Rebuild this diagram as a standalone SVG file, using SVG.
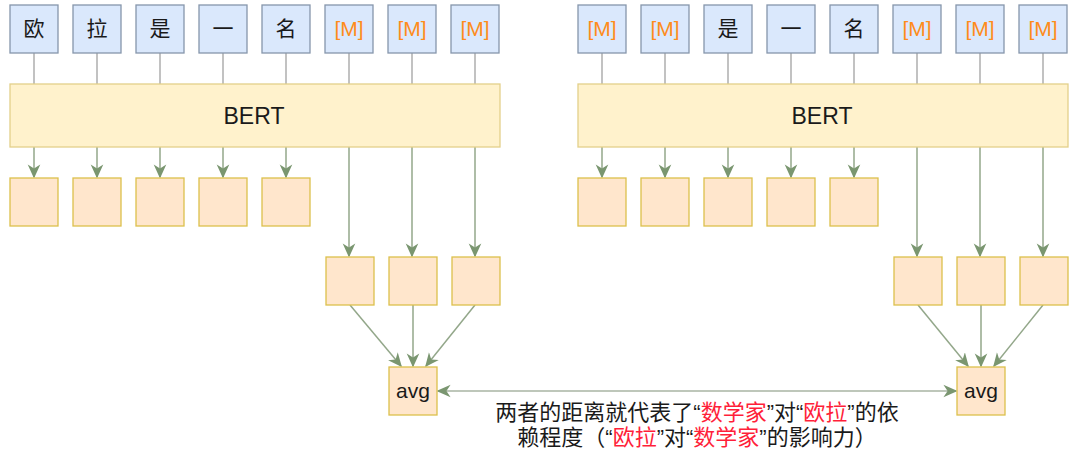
<svg xmlns="http://www.w3.org/2000/svg" width="1080" height="451" viewBox="0 0 1080 451">
<defs>
<style>
.tok{fill:#dae8fc;stroke:#8696ab;stroke-width:1.3}
.bert{fill:#fff2cc;stroke:#e3d08a;stroke-width:1.3}
.out{fill:#ffe6cc;stroke:#dcc04c;stroke-width:1.3}
.t{font-family:"Liberation Sans","Noto Sans CJK SC",sans-serif;font-size:21px;fill:#1a1a1a;text-anchor:middle}
.m{fill:#ff8c1a}
.big{font-size:23px}
.avg{font-size:21px}
.in{stroke:#9a9a9a;stroke-width:1.2;fill:none}
.ar{stroke:#93a78a;stroke-width:1.5;fill:none}
.cap{font-family:"Liberation Sans","Noto Sans CJK SC",sans-serif;font-size:22px;fill:#1a1a1a;text-anchor:middle}
.r{fill:#ff1f3a}
</style>
<marker id="ah" viewBox="0 0 10 10" refX="9" refY="5" markerWidth="14" markerHeight="14" markerUnits="userSpaceOnUse" orient="auto-start-reverse">
<path d="M0,0.5 L10,5 L0,9.5 L3,5 Z" fill="#7a9670"/>
</marker>
</defs>
<rect width="1080" height="451" fill="#ffffff"/>

<g id="connectors">
<path class="in" d="M34,53V84M97,53V84M160,53V84M223,53V84M286,53V84M349,53V84M412,53V84M475,53V84"/>
<path class="in" d="M602,53V84M665,53V84M728,53V84M791,53V84M854,53V84M917,53V84M980,53V84M1043,53V84"/>
<g class="ar" marker-end="url(#ah)">
<line x1="34" y1="147" x2="34" y2="177"/>
<line x1="97" y1="147" x2="97" y2="177"/>
<line x1="160" y1="147" x2="160" y2="177"/>
<line x1="223" y1="147" x2="223" y2="177"/>
<line x1="286" y1="147" x2="286" y2="177"/>
<line x1="349" y1="147" x2="349" y2="256"/>
<line x1="412" y1="147" x2="412" y2="256"/>
<line x1="475" y1="147" x2="475" y2="256"/>
<line x1="602" y1="147" x2="602" y2="177"/>
<line x1="665" y1="147" x2="665" y2="177"/>
<line x1="728" y1="147" x2="728" y2="177"/>
<line x1="791" y1="147" x2="791" y2="177"/>
<line x1="854" y1="147" x2="854" y2="177"/>
<line x1="917" y1="147" x2="917" y2="256"/>
<line x1="980" y1="147" x2="980" y2="256"/>
<line x1="1043" y1="147" x2="1043" y2="256"/>
<line x1="350" y1="305" x2="401" y2="366"/>
<line x1="413" y1="305" x2="413" y2="366"/>
<line x1="475" y1="305" x2="426" y2="366"/>
<line x1="918" y1="305" x2="968" y2="366"/>
<line x1="981" y1="305" x2="981" y2="366"/>
<line x1="1043" y1="305" x2="994" y2="366"/>
</g>
<line x1="438" y1="391" x2="956" y2="391" stroke="#a9b5a3" stroke-width="1.5" marker-start="url(#ah)" marker-end="url(#ah)"/>
</g>

<g id="l-tok1"><rect class="tok" x="10" y="5" width="48" height="48"/><text class="t" x="34" y="36">欧</text></g>
<g id="l-tok2"><rect class="tok" x="73" y="5" width="48" height="48"/><text class="t" x="97" y="36">拉</text></g>
<g id="l-tok3"><rect class="tok" x="136" y="5" width="48" height="48"/><text class="t" x="160" y="36">是</text></g>
<g id="l-tok4"><rect class="tok" x="199" y="5" width="48" height="48"/><text class="t" x="223" y="36">一</text></g>
<g id="l-tok5"><rect class="tok" x="262" y="5" width="48" height="48"/><text class="t" x="286" y="36">名</text></g>
<g id="l-tok6"><rect class="tok" x="325" y="5" width="48" height="48"/><text class="t m" x="349" y="36">[M]</text></g>
<g id="l-tok7"><rect class="tok" x="388" y="5" width="48" height="48"/><text class="t m" x="412" y="36">[M]</text></g>
<g id="l-tok8"><rect class="tok" x="451" y="5" width="48" height="48"/><text class="t m" x="475" y="36">[M]</text></g>

<g id="l-bert"><rect class="bert" x="10" y="84" width="490" height="63"/><text class="t big" x="254" y="124">BERT</text></g>

<g id="l-out1"><rect class="out" x="10" y="178" width="48" height="48"/></g>
<g id="l-out2"><rect class="out" x="73" y="178" width="48" height="48"/></g>
<g id="l-out3"><rect class="out" x="136" y="178" width="48" height="48"/></g>
<g id="l-out4"><rect class="out" x="199" y="178" width="48" height="48"/></g>
<g id="l-out5"><rect class="out" x="262" y="178" width="48" height="48"/></g>
<g id="l-out6"><rect class="out" x="326" y="257" width="48" height="48"/></g>
<g id="l-out7"><rect class="out" x="389" y="257" width="48" height="48"/></g>
<g id="l-out8"><rect class="out" x="452" y="257" width="48" height="48"/></g>
<g id="l-avg"><rect class="out" x="389" y="367" width="48" height="48"/><text class="t avg" x="413" y="398">avg</text></g>

<g id="r-tok1"><rect class="tok" x="578" y="5" width="48" height="48"/><text class="t m" x="602" y="36">[M]</text></g>
<g id="r-tok2"><rect class="tok" x="641" y="5" width="48" height="48"/><text class="t m" x="665" y="36">[M]</text></g>
<g id="r-tok3"><rect class="tok" x="704" y="5" width="48" height="48"/><text class="t" x="728" y="36">是</text></g>
<g id="r-tok4"><rect class="tok" x="767" y="5" width="48" height="48"/><text class="t" x="791" y="36">一</text></g>
<g id="r-tok5"><rect class="tok" x="830" y="5" width="48" height="48"/><text class="t" x="854" y="36">名</text></g>
<g id="r-tok6"><rect class="tok" x="893" y="5" width="48" height="48"/><text class="t m" x="917" y="36">[M]</text></g>
<g id="r-tok7"><rect class="tok" x="956" y="5" width="48" height="48"/><text class="t m" x="980" y="36">[M]</text></g>
<g id="r-tok8"><rect class="tok" x="1019" y="5" width="48" height="48"/><text class="t m" x="1043" y="36">[M]</text></g>

<g id="r-bert"><rect class="bert" x="578" y="84" width="490" height="63"/><text class="t big" x="822" y="124">BERT</text></g>

<g id="r-out1"><rect class="out" x="578" y="178" width="48" height="48"/></g>
<g id="r-out2"><rect class="out" x="641" y="178" width="48" height="48"/></g>
<g id="r-out3"><rect class="out" x="704" y="178" width="48" height="48"/></g>
<g id="r-out4"><rect class="out" x="767" y="178" width="48" height="48"/></g>
<g id="r-out5"><rect class="out" x="830" y="178" width="48" height="48"/></g>
<g id="r-out6"><rect class="out" x="894" y="257" width="48" height="48"/></g>
<g id="r-out7"><rect class="out" x="957" y="257" width="48" height="48"/></g>
<g id="r-out8"><rect class="out" x="1020" y="257" width="48" height="48"/></g>
<g id="r-avg"><rect class="out" x="957" y="367" width="48" height="48"/><text class="t avg" x="981" y="398">avg</text></g>

<g id="caption">
<text class="cap" x="697" y="420">两者的距离就代表了“<tspan class="r">数学家</tspan>”对“<tspan class="r">欧拉</tspan>”的依</text>
<text class="cap" x="697" y="445">赖程度（“<tspan class="r">欧拉</tspan>”对“<tspan class="r">数学家</tspan>”的影响力）</text>
</g>
</svg>
